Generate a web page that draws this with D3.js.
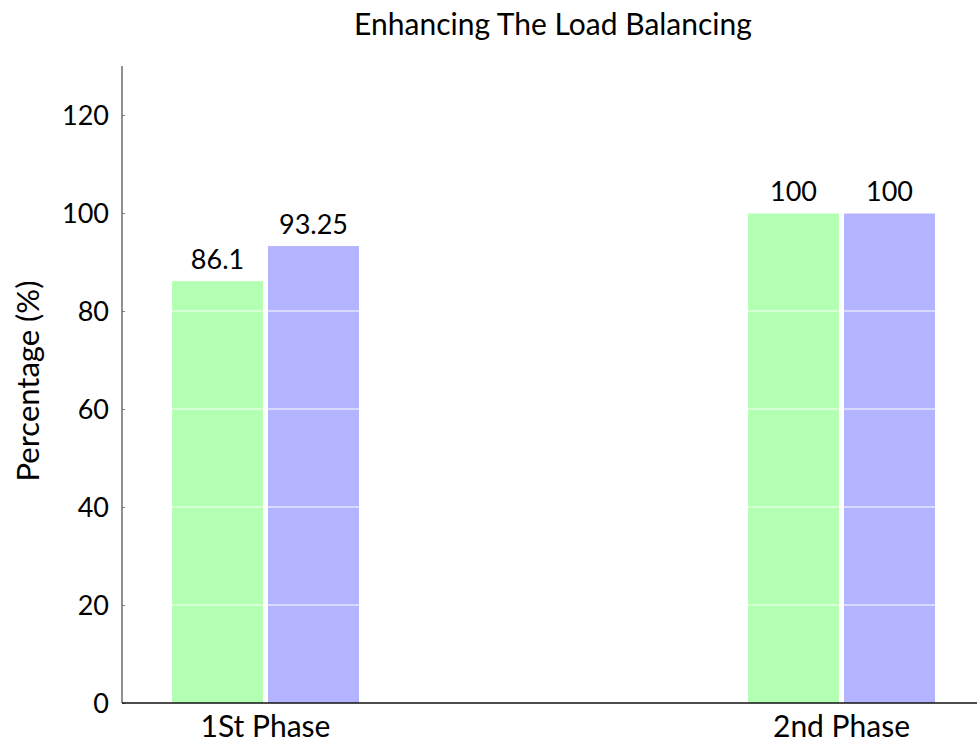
<!DOCTYPE html>
<html>
<head>
<meta charset="utf-8">
<script src="https://cdn.jsdelivr.net/npm/d3@7"></script>
<style>
  body { margin: 0; background: #fff; }
  svg text { font-family: "Lato", "Liberation Sans", sans-serif; fill: #000; }
</style>
</head>
<body>
<svg id="chart"></svg>
<script>
const width = 977;
const height = 742;

const phases = ["1St Phase", "2nd Phase"];
const series = ["first", "second"];
const firstValues = [86.1, 100];
const secondValues = [93.25, 100];
const valueLabels = [["86.1", "93.25"], ["100", "100"]];
const yTicks = [0, 20, 40, 60, 80, 100, 120];
const colors = ["#b3ffb3", "#b3b3ff"];

const svg = d3.select("#chart")
  .attr("width", width)
  .attr("height", height);

const x = d3.scalePoint()
  .domain(phases)
  .range([265.5, 841.5]);

const inner = d3.scaleBand()
  .domain(series)
  .range([-93.5, 93.5])
  .paddingInner(0.052);

const y = d3.scaleLinear()
  .domain([0, 130])
  .range([703, 66]);

const data = [];
phases.forEach((p, i) => {
  data.push({ phase: p, s: "first", v: firstValues[i], label: valueLabels[i][0] });
  data.push({ phase: p, s: "second", v: secondValues[i], label: valueLabels[i][1] });
});

// bars
svg.selectAll("rect.bar")
  .data(data)
  .enter()
  .append("rect")
  .attr("class", "bar")
  .attr("x", d => x(d.phase) + inner(d.s))
  .attr("width", inner.bandwidth())
  .attr("y", d => y(d.v))
  .attr("height", d => y(0) - y(d.v))
  .attr("fill", d => colors[series.indexOf(d.s)]);

// white grid over bars
svg.selectAll("line.grid")
  .data(yTicks.filter(t => t > 0))
  .enter()
  .append("line")
  .attr("x1", 123)
  .attr("x2", width)
  .attr("y1", d => y(d))
  .attr("y2", d => y(d))
  .attr("stroke", "#fff")
  .attr("stroke-width", 1.2);

// value labels
svg.selectAll("text.val")
  .data(data)
  .enter()
  .append("text")
  .attr("x", d => x(d.phase) + inner(d.s) + inner.bandwidth() / 2)
  .attr("y", d => y(d.v) - 12)
  .attr("text-anchor", "middle")
  .style("font-size", "27px")
  .text(d => d.label);

// y axis
const yAxis = svg.append("g")
  .attr("transform", "translate(122,0)")
  .call(d3.axisRight(y).tickValues(yTicks).tickSize(3).tickFormat(""));
yAxis.select(".domain").remove();
yAxis.selectAll(".tick line").attr("stroke", "#888");

svg.append("line")
  .attr("x1", 122).attr("x2", 122)
  .attr("y1", y(130)).attr("y2", y(0))
  .attr("stroke", "#555").attr("stroke-width", 1.3);

svg.selectAll("text.ytick")
  .data(yTicks)
  .enter()
  .append("text")
  .attr("x", 109)
  .attr("y", d => y(d))
  .attr("dy", "0.36em")
  .attr("text-anchor", "end")
  .style("font-size", "27px")
  .text(d => d);

// x axis
svg.append("line")
  .attr("x1", 122).attr("x2", width)
  .attr("y1", y(0)).attr("y2", y(0))
  .attr("stroke", "#111").attr("stroke-width", 1.3);

svg.selectAll("text.xtick")
  .data(phases)
  .enter()
  .append("text")
  .attr("x", d => x(d))
  .attr("y", 737)
  .attr("text-anchor", "middle")
  .style("font-size", "30px")
  .text(d => d);

// y label
svg.append("text")
  .attr("transform", "translate(39,381) rotate(-90)")
  .attr("text-anchor", "middle")
  .style("font-size", "31px")
  .text("Percentage (%)");

// title
svg.append("text")
  .attr("x", 553)
  .attr("y", 35)
  .attr("text-anchor", "middle")
  .style("font-size", "30px")
  .text("Enhancing The Load Balancing");
</script>
</body>
</html>
